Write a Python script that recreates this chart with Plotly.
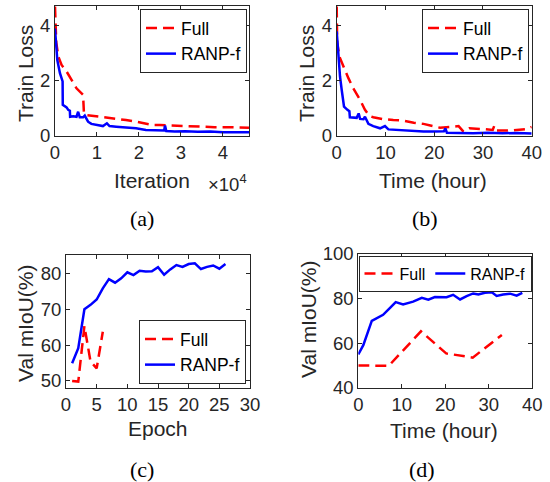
import plotly.graph_objects as go

# ---------------- data ----------------
# (a) train loss vs iteration
full_iter = [0, 300, 790, 1570, 2760, 3940, 5120, 6690, 6900, 7480, 9050, 11400, 13000,
             14600, 16900, 19300, 21650, 23200, 25000, 28000, 30700, 33000, 35000, 38000,
             41000, 44000, 46200]
full_iter_loss = [4.7, 3.4, 2.88, 2.58, 2.34, 2.04, 1.73, 1.49, 0.8, 0.76, 0.73, 0.7, 0.68,
                  0.64, 0.58, 0.52, 0.45, 0.4, 0.4, 0.38, 0.36, 0.34, 0.33, 0.32,
                  0.32, 0.31, 0.3]
ranp_iter = [0, 240, 550, 1180, 1810, 1850, 2760, 3150, 3540, 3600, 4330, 5120, 5510, 5900,
             6690, 7090, 7870, 8660, 9840, 11420, 12360, 12990, 14570, 16930, 19290, 21650,
             24000, 26000, 26200, 26500, 28500, 31000, 34000, 37000, 40000, 43000, 46200]
ranp_iter_loss = [3.9, 3.37, 2.76, 2.28, 1.98, 1.13, 1.04, 0.95, 0.92, 0.7, 0.72, 0.7, 0.88,
                  0.68, 0.68, 0.74, 0.52, 0.44, 0.4, 0.36, 0.46, 0.36, 0.34, 0.32, 0.28,
                  0.22, 0.2, 0.2, 0.38, 0.18, 0.16, 0.17, 0.15, 0.16, 0.14, 0.15, 0.14]
iter_tickvals = [0, 10000, 20000, 30000, 40000]
iter_ticktext = ["0", "1", "2", "3", "4"]

# (b) train loss vs time
full_time = [0, 0.1, 0.55, 1.37, 2.4, 3.4, 4.8, 5.8, 6.7, 7.5, 9.6, 11.6, 13.7, 15.8, 17.8,
             19.2, 21.2, 23.5, 25.0, 26.0, 27.2, 30.2, 32.0, 32.3, 32.6, 36.0, 39.0, 40.0]
full_time_loss = [4.7, 3.4, 2.88, 2.52, 2.1, 1.73, 1.31, 0.95, 0.73, 0.68, 0.61, 0.58, 0.56,
                  0.48, 0.44, 0.38, 0.3, 0.33, 0.36, 0.16, 0.28, 0.25, 0.22, 0.36, 0.2,
                  0.2, 0.25, 0.33]
ranp_time = [0, 0.34, 0.68, 1.03, 1.5, 2.2, 2.6, 2.7, 3.4, 4.1, 4.5, 4.8, 5.5, 5.8, 6.5, 7.5,
             8.9, 9.9, 10.6, 12.3, 15.0, 17.8, 20.0, 22.0, 22.3, 22.6, 25.0, 28.0, 31.0,
             34.0, 37.0, 40.0]
ranp_time_loss = [3.8, 2.88, 2.16, 1.67, 1.07, 0.95, 0.9, 0.68, 0.66, 0.66, 0.82, 0.62, 0.61,
                  0.7, 0.44, 0.36, 0.28, 0.36, 0.24, 0.22, 0.2, 0.16, 0.16, 0.17, 0.28, 0.12,
                  0.11, 0.1, 0.12, 0.1, 0.11, 0.09]

# (c) val mIoU vs epoch
full_epoch = [1, 2, 3, 4, 5, 6]
full_miou = [50.0, 49.8, 65.3, 55.4, 53.5, 63.7]
ranp_epoch = list(range(1, 27))
ranp_miou = [54.9, 59.1, 70.0, 71.2, 72.7, 75.8, 78.4, 77.4, 78.6, 80.3, 79.5, 80.7, 80.5,
             80.6, 81.7, 79.6, 81.1, 82.3, 81.8, 82.6, 82.8, 81.2, 81.8, 82.2, 81.3, 82.6]

# (d) val mIoU vs time
full_hours = [0, 7.0, 14.4, 20.2, 26.3, 33.0]
ranp_hours = [0, 1.15, 3.1, 4.2, 5.7, 7.3, 8.6, 10.3, 12.6, 14.6, 16.1, 17.6, 19.2, 20.3,
              21.8, 23.4, 24.9, 26.4, 27.6, 29.1, 30.7, 31.8, 33.3, 34.9, 36.4, 37.7]

series_names = ["Full", "RANP-f"]
captions = ["(a)", "(b)", "(c)", "(d)"]

# ---------------- figure ----------------
W, H = 550, 482
def px(x): return x / W
def py(y): return 1 - y / H

RED = "#ff0000"
BLUE = "#0000ff"
AX = "#262626"
DASH = "11px,6px"
LW = 2.5
SANS = "Liberation Sans, Arial, Helvetica, sans-serif"
SERIF = "Liberation Serif, Times New Roman, serif"

fig = go.Figure()

panels = [
    ("x", "y", "legend", full_iter, full_iter_loss, ranp_iter, ranp_iter_loss),
    ("x2", "y2", "legend2", full_time, full_time_loss, ranp_time, ranp_time_loss),
    ("x3", "y3", "legend3", full_epoch, full_miou, ranp_epoch, ranp_miou),
    ("x4", "y4", "legend4", full_hours, full_miou, ranp_hours, ranp_miou),
]
for xa, ya, lg, fx, fy, rx, ry in panels:
    fig.add_trace(go.Scatter(x=fx, y=fy, mode="lines", name=series_names[0],
                             line=dict(color=RED, width=LW, dash=DASH),
                             xaxis=xa, yaxis=ya, legend=lg))
    fig.add_trace(go.Scatter(x=rx, y=ry, mode="lines", name=series_names[1],
                             line=dict(color=BLUE, width=LW),
                             xaxis=xa, yaxis=ya, legend=lg))

def axis(domain, rng, **kw):
    d = dict(domain=domain, range=rng, showline=True, linecolor=AX, linewidth=1,
             mirror="ticks", ticks="inside", ticklen=4, tickcolor=AX, tickwidth=1,
             showgrid=False, zeroline=False, automargin=False,
             tickfont=dict(family=SANS, size=18.5, color=AX))
    d.update(kw)
    return d

boxes = {
    "a": (55, 249, 6, 136),
    "b": (336.7, 531.7, 6, 136),
    "c": (66, 250, 254.7, 387.7),
    "d": (358.3, 532.3, 254, 387.7),
}
def xd(k): return [px(boxes[k][0]), px(boxes[k][1])]
def yd(k): return [py(boxes[k][3]), py(boxes[k][2])]

fig.update_layout(
    width=W, height=H,
    margin=dict(l=0, r=0, t=0, b=0, autoexpand=False),
    paper_bgcolor="white", plot_bgcolor="white",
    xaxis=axis(xd("a"), [0, 46200], anchor="y", tickvals=iter_tickvals, ticktext=iter_ticktext),
    yaxis=axis(yd("a"), [0, 4.72], anchor="x", tickvals=[0, 2, 4]),
    xaxis2=axis(xd("b"), [0, 40], anchor="y2", tickvals=[0, 10, 20, 30, 40]),
    yaxis2=axis(yd("b"), [0, 4.72], anchor="x2", tickvals=[0, 2, 4]),
    xaxis3=axis(xd("c"), [0, 30], anchor="y3", tickvals=[0, 5, 10, 15, 20, 25, 30]),
    yaxis3=axis(yd("c"), [48.1, 85.2], anchor="x3", tickvals=[50, 60, 70, 80]),
    xaxis4=axis(xd("d"), [0, 40], anchor="y4", tickvals=[0, 10, 20, 30, 40]),
    yaxis4=axis(yd("d"), [40, 100], anchor="x4", tickvals=[40, 60, 80, 100]),
)

leg_common = dict(bgcolor="white", bordercolor=AX, borderwidth=1,
                  itemwidth=30, tracegroupgap=0)
legfont = dict(family=SANS, size=17.5, color="black")
fig.update_layout(
    legend=dict(x=px(247), y=py(9), xanchor="right", yanchor="top", font=legfont, **leg_common),
    legend2=dict(x=px(529), y=py(9), xanchor="right", yanchor="top", font=legfont, **leg_common),
    legend3=dict(x=px(246), y=py(384), xanchor="right", yanchor="bottom", font=legfont, **leg_common),
    legend4=dict(x=px(445), y=py(255.5), xanchor="center", yanchor="top",
                 orientation="h", font=dict(family=SANS, size=16, color="black"), **leg_common),
)

ann = []
def label(text, x, y, angle=0, size=21, family=SANS, color=AX):
    ann.append(dict(text=text, x=px(x), y=py(y), xref="paper", yref="paper",
                    showarrow=False, textangle=angle, xanchor="center", yanchor="middle",
                    font=dict(family=family, size=size, color=color)))

label("Train Loss", 25, 74, angle=-90)
label("Iteration", 152, 180)
label("×10<sup>4</sup>", 227, 183, size=18.5)
label("Train Loss", 306, 74, angle=-90)
label("Time (hour)", 433, 180)
label("Val mIoU(%)", 25, 324, angle=-90)
label("Epoch", 158, 428)
label("Val mIoU(%)", 308, 320, angle=-90)
label("Time (hour)", 444, 430)
label(captions[0], 142, 219, size=22, family=SERIF, color="black")
label(captions[1], 425, 219, size=22, family=SERIF, color="black")
label(captions[2], 142, 469, size=22, family=SERIF, color="black")
label(captions[3], 422, 469, size=22, family=SERIF, color="black")
fig.update_layout(annotations=ann)

fig.write_html("out.html",
               config={"displayModeBar": False},
               post_script="document.body.style.margin='0';document.body.style.overflow='hidden';")
